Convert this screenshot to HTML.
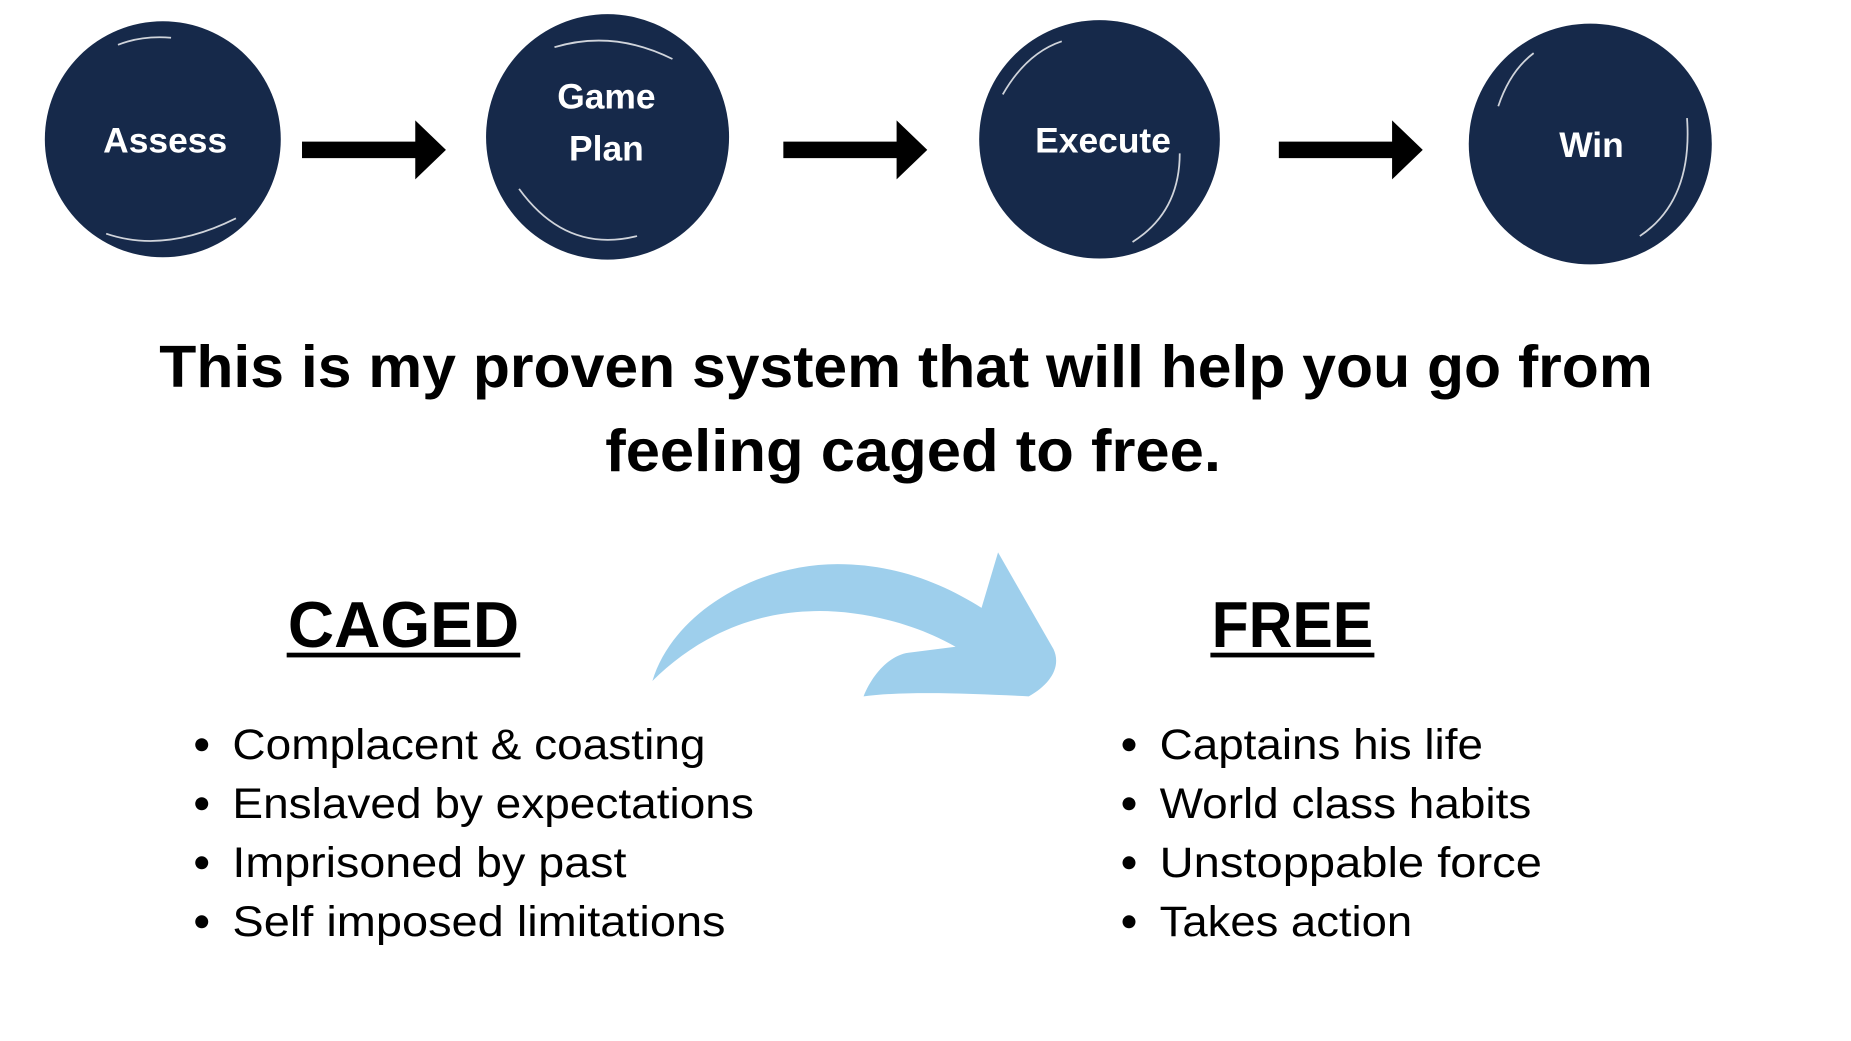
<!DOCTYPE html>
<html><head><meta charset="utf-8"><style>
html,body{margin:0;padding:0;background:#fff;}
svg{display:block;}
</style></head><body>
<svg width="1851" height="1041" viewBox="0 0 1569 882" preserveAspectRatio="none" xmlns="http://www.w3.org/2000/svg" font-family="'Liberation Sans', sans-serif">
<rect width="1569" height="882" fill="#fff"/>
<g fill="#16294a">
<ellipse cx="138" cy="118" rx="100" ry="100"/>
<ellipse cx="515" cy="116" rx="103" ry="104"/>
<ellipse cx="932" cy="118" rx="102" ry="101"/>
<ellipse cx="1348" cy="122" rx="103" ry="102"/>
</g>
<g fill="none" stroke="#fff" stroke-width="1.5" opacity="0.8">
<path d="M100 38 Q120 30 145 32"/>
<path d="M90 198 Q140 215 200 185"/>
<path d="M470 40 Q520 25 570 50"/>
<path d="M440 160 Q480 215 540 200"/>
<path d="M850 80 Q870 45 900 35"/>
<path d="M1000 130 Q1000 180 960 205"/>
<path d="M1270 90 Q1280 60 1300 45"/>
<path d="M1430 100 Q1435 170 1390 200"/>
</g>
<g fill="#fff" font-weight="bold" font-size="30" text-anchor="middle">
<text x="140" y="129">Assess</text>
<text x="514" y="92">Game</text>
<text x="514" y="136">Plan</text>
<text x="935" y="129">Execute</text>
<text x="1349" y="133">Win</text>
</g>
<g fill="#000">
<path d="M256 120 H352 V102 L378 127 L352 152 V134 H256 Z"/>
<path d="M664 120 H760 V102 L786 127 L760 152 V134 H664 Z"/>
<path d="M1084 120 H1180 V102 L1206 127 L1180 152 V134 H1084 Z"/>
</g>
<g fill="#000" font-weight="bold" font-size="50" text-anchor="middle">
<text x="768" y="328" textLength="1266" lengthAdjust="spacingAndGlyphs">This is my proven system that will help you go from</text>
<text x="774" y="399" textLength="522" lengthAdjust="spacingAndGlyphs">feeling caged to free.</text>
</g>
<g fill="#000" font-weight="bold" font-size="55">
<text x="244" y="548" textLength="196" lengthAdjust="spacingAndGlyphs">CAGED</text>
<text x="1027" y="548" textLength="137" lengthAdjust="spacingAndGlyphs">FREE</text>
<rect x="243" y="553" width="198" height="4"/>
<rect x="1026" y="553" width="139" height="4"/>
</g>
<path fill="#9ecfec" d="M553,577 C570,520 640,478 710,478 C760,478 800,495 832,515 L846,468 L893,550 C900,565 890,580 872,590 C830,588 770,585 732,590 C740,570 755,555 770,553 L810,548 C770,525 720,516 685,518 C630,520 585,545 553,577 Z"/>
<g fill="#000" font-size="36">
<text x="197" y="643" textLength="401" lengthAdjust="spacingAndGlyphs">Complacent &amp; coasting</text>
<text x="197" y="693" textLength="442" lengthAdjust="spacingAndGlyphs">Enslaved by expectations</text>
<text x="197" y="743" textLength="334" lengthAdjust="spacingAndGlyphs">Imprisoned by past</text>
<text x="197" y="793" textLength="418" lengthAdjust="spacingAndGlyphs">Self imposed limitations</text>
<text x="983" y="643" textLength="274" lengthAdjust="spacingAndGlyphs">Captains his life</text>
<text x="983" y="693" textLength="315" lengthAdjust="spacingAndGlyphs">World class habits</text>
<text x="983" y="743" textLength="324" lengthAdjust="spacingAndGlyphs">Unstoppable force</text>
<text x="983" y="793" textLength="214" lengthAdjust="spacingAndGlyphs">Takes action</text>
<circle cx="171" cy="631" r="5.5"/><circle cx="171" cy="681" r="5.5"/><circle cx="171" cy="731" r="5.5"/><circle cx="171" cy="781" r="5.5"/>
<circle cx="957" cy="631" r="5.5"/><circle cx="957" cy="681" r="5.5"/><circle cx="957" cy="731" r="5.5"/><circle cx="957" cy="781" r="5.5"/>
</g>
</svg>
</body></html>
